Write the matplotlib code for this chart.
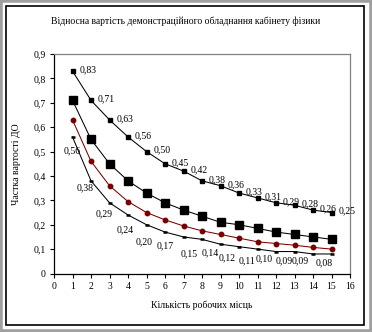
import matplotlib
matplotlib.use('Agg')
import matplotlib.pyplot as plt
from matplotlib.patches import Rectangle
from matplotlib.ticker import FuncFormatter, MultipleLocator

plt.rcParams['font.family'] = ['Liberation Serif', 'DejaVu Serif']

# робочі місця
places = [1, 2, 3, 4, 5, 6, 7, 8, 9, 10, 11, 12, 13, 14, 15]

# частки вартості для чотирьох варіантів комплектації
share_top = [0.83, 0.71, 0.63, 0.56, 0.50, 0.45, 0.42, 0.38, 0.36, 0.33, 0.31, 0.29, 0.28, 0.26, 0.25]
share_big = [0.71, 0.55, 0.45, 0.38, 0.33, 0.29, 0.26, 0.235, 0.21, 0.20, 0.185, 0.17, 0.16, 0.15, 0.14]
share_red = [0.63, 0.46, 0.36, 0.295, 0.25, 0.22, 0.195, 0.175, 0.16, 0.145, 0.13, 0.123, 0.116, 0.107, 0.10]
share_low = [0.56, 0.38, 0.29, 0.24, 0.20, 0.17, 0.15, 0.14, 0.12, 0.11, 0.10, 0.09, 0.09, 0.08, 0.08]

title = 'Відносна вартість демонстраційного обладнання кабінету фізики'
xlabel = 'Кількість робочих місць'
ylabel = 'Частка вартості ДО'

fig = plt.figure(figsize=(3.72, 3.32), dpi=100)
fig.patch.set_facecolor('white')

# рамка навколо діаграми
fig.patches.append(Rectangle((0, 0), 1, 1, transform=fig.transFigure,
                             fill=False, edgecolor='#a0a0a0', linewidth=4))
fig.patches.append(Rectangle((6 / 372, 7 / 332), 1 - 14 / 372, 1 - 13 / 332,
                             transform=fig.transFigure, fill=False,
                             edgecolor='black', linewidth=1.2))

ax = fig.add_axes([54 / 372, 58.5 / 332, 296 / 372, 219.5 / 332])

ax.plot(places, share_top, color='black', lw=0.75, marker='s', ms=3.3)
ax.plot(places, share_big, color='black', lw=0.75, marker='s', ms=5.5)
ax.plot(places, share_red, color='#7a0000', lw=0.75, marker='o', ms=3.2)
ax.plot(places, share_low, color='black', lw=0.75, marker='_', ms=3, mew=1.8)

fmt = lambda v: f'{v:.2f}'.replace('.', ',')

for x, v in zip(places, share_top):
    ax.annotate(fmt(v), (x, v), xytext=(5, 1), textcoords='offset points',
                fontsize=7, ha='left', va='center')

low_offsets = [(0, -10), (-4, -5), (-4, -8), (-2, -11), (-2, -12), (0, -10),
               (4, -12), (6, -10), (5, -10), (6, -10), (5, -7), (6, -7),
               (4, -7), (8, -6)]
for x, v, off in zip(places, share_low, low_offsets):
    ax.annotate(fmt(v), (x, v), xytext=off, textcoords='offset points',
                fontsize=7, ha='center', va='center')

ax.set_xlim(0, 16)
ax.set_ylim(0, 0.9)
ax.xaxis.set_major_locator(MultipleLocator(1))
ax.yaxis.set_major_locator(MultipleLocator(0.1))
ax.yaxis.set_major_formatter(FuncFormatter(lambda v, p: '0' if abs(v) < 1e-9 else f'{v:.1f}'.replace('.', ',')))
ax.tick_params(direction='out', length=3, width=0.8, labelsize=7, pad=3)

for side in ['top', 'right']:
    ax.spines[side].set_color('#808080')
    ax.spines[side].set_linewidth(0.9)
for side in ['left', 'bottom']:
    ax.spines[side].set_linewidth(0.9)

ax.set_xlabel(xlabel, fontsize=7, labelpad=7)
ax.set_ylabel(ylabel, fontsize=7, labelpad=9)
fig.text(0.5, 1 - 21 / 332, title, fontsize=6.9, ha='center', va='center')

fig.savefig('out.png', dpi=100)
